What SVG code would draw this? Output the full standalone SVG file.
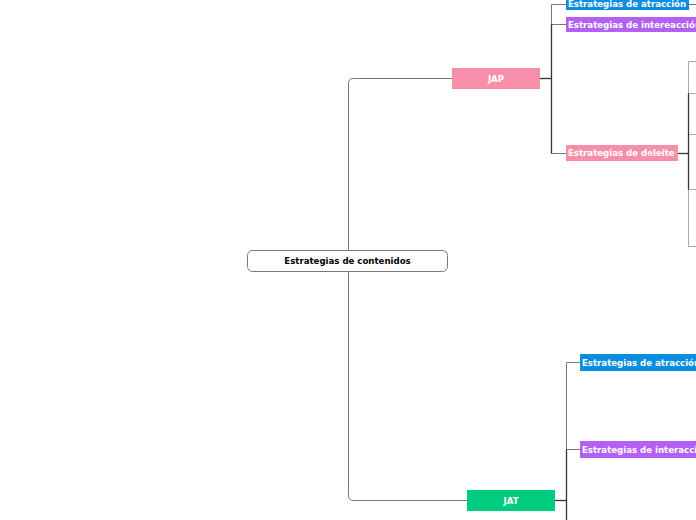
<svg xmlns="http://www.w3.org/2000/svg" width="696" height="520" viewBox="0 0 696 520">
<style>
.t{font-family:"DejaVu Sans",Verdana,sans-serif;font-weight:bold;font-size:8.6px;fill:#fff;dominant-baseline:central}
.c{fill:none;stroke:#777;stroke-width:1}
.d{fill:none;stroke:#333;stroke-width:1.3}
.l{fill:none;stroke:#aaa;stroke-width:1}
</style>
<rect width="696" height="520" fill="#fff"/>
<g id="connectors">
<path class="c" d="M452 78.5 H353.5 Q348.5 78.5 348.5 83.5 V495.5 Q348.5 500.5 353.5 500.5 H467"/>
<path class="d" d="M540 78.5 H551.5"/>
<path class="c" d="M566 4.5 H551.5 V153.5 H566 M551.5 24.5 H566"/>
<path class="d" d="M551.5 24.5 V153.5"/>
<path class="d" d="M678 153.5 H688.5"/>
<path class="l" d="M696 61.5 H688.5 V246.5 H696 M688.5 93.5 H696 M688.5 134.5 H696 M688.5 189.5 H696"/>
<path class="d" d="M688.5 93.5 V189.5"/>
<path class="c" d="M689 4.5 H696"/>
<path class="d" d="M555 500.5 H566.5"/>
<path class="c" d="M580 362.5 H566.5 V520 M566.5 449.5 H580"/>
<path class="d" d="M566.5 449.5 V520"/>
</g>
<g id="center">
<rect x="247.5" y="250.5" width="200" height="21" rx="5" fill="#fff" stroke="#777"/>
<text class="t" x="347.5" y="261" text-anchor="middle" style="fill:#000">Estrategias de contenidos</text>
</g>
<g id="jap">
<rect x="452" y="68" width="88" height="21" fill="#f88fa8"/>
<text class="t" x="496" y="78.5" text-anchor="middle">JAP</text>
</g>
<g id="jap-atraccion">
<rect x="566" y="-3" width="123" height="13" fill="#0a8fe0"/>
<text class="t" x="568" y="4">Estrategias de atracción</text>
</g>
<g id="jap-interaccion">
<rect x="566" y="17" width="132" height="15" fill="#b460f5"/>
<text class="t" x="568" y="24.5">Estrategias de intereacción</text>
</g>
<g id="jap-deleite">
<rect x="566" y="145" width="112" height="16" fill="#f88fa8"/>
<text class="t" x="568" y="153">Estrategias de deleite</text>
</g>
<g id="jat">
<rect x="467" y="490" width="88" height="21" fill="#00cc7f"/>
<text class="t" x="511" y="500.5" text-anchor="middle">JAT</text>
</g>
<g id="jat-atraccion">
<rect x="580" y="354" width="120" height="17" fill="#0a8fe0"/>
<text class="t" x="582" y="362.5">Estrategias de atracción</text>
</g>
<g id="jat-interaccion">
<rect x="580" y="441" width="120" height="17" fill="#b460f5"/>
<text class="t" x="582" y="449.5">Estrategias de interacción</text>
</g>
</svg>
